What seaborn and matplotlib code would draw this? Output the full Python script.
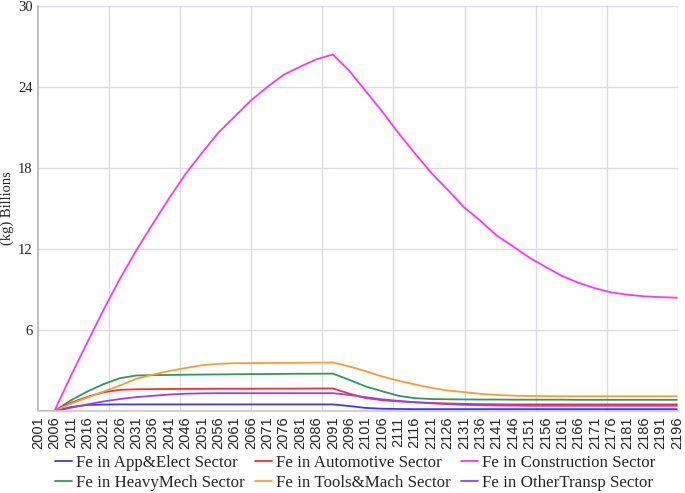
import matplotlib
matplotlib.use("Agg")
import matplotlib.pyplot as plt
import seaborn as sns
import pandas as pd
import numpy as np

years = list(range(2001, 2197, 5))

app_elect = [0, 0, 0.3, 0.46, 0.49, 0.5, 0.5, 0.5, 0.5, 0.5, 0.5, 0.5, 0.5, 0.5,
             0.5, 0.5, 0.5, 0.5, 0.5, 0.38, 0.24, 0.18, 0.16, 0.15, 0.15, 0.15,
             0.15, 0.15, 0.15, 0.15, 0.15, 0.15, 0.15, 0.15, 0.15, 0.15, 0.15,
             0.15, 0.15, 0.15]
automotive = [0, 0, 0.62, 1.05, 1.4, 1.58, 1.62, 1.63, 1.64, 1.65, 1.65, 1.66,
              1.66, 1.66, 1.67, 1.67, 1.67, 1.68, 1.68, 1.3, 0.97, 0.81, 0.72,
              0.66, 0.61, 0.57, 0.54, 0.52, 0.51, 0.5, 0.5, 0.5, 0.5, 0.5, 0.5,
              0.5, 0.5, 0.5, 0.5, 0.5]
construction = [0, 0, 2.6, 5.06, 7.5, 9.8, 11.9, 13.85, 15.75, 17.55, 19.1, 20.6,
                21.8, 23.0, 24.0, 24.9, 25.5, 26.05, 26.4, 25.2, 23.7, 22.2, 20.6,
                19.1, 17.65, 16.4, 15.1, 14.1, 13.0, 12.2, 11.36, 10.67, 10.0, 9.5,
                9.1, 8.79, 8.62, 8.5, 8.44, 8.4]
heavy_mech = [0, 0, 0.8, 1.45, 2.0, 2.44, 2.64, 2.67, 2.68, 2.7, 2.71, 2.72, 2.73,
              2.74, 2.75, 2.76, 2.77, 2.77, 2.78, 2.32, 1.83, 1.48, 1.14, 0.96,
              0.9, 0.88, 0.87, 0.86, 0.86, 0.85, 0.85, 0.85, 0.85, 0.84, 0.84,
              0.84, 0.84, 0.84, 0.84, 0.84]
tools_mach = [0, 0, 0.55, 1.0, 1.45, 1.9, 2.4, 2.7, 2.97, 3.19, 3.4, 3.5, 3.55,
              3.56, 3.57, 3.57, 3.58, 3.59, 3.6, 3.31, 2.96, 2.57, 2.25, 1.98,
              1.73, 1.53, 1.41, 1.28, 1.2, 1.15, 1.12, 1.11, 1.1, 1.1, 1.1, 1.1,
              1.1, 1.1, 1.1, 1.1]
other_transp = [0, 0, 0.25, 0.5, 0.72, 0.9, 1.04, 1.14, 1.23, 1.29, 1.32, 1.33,
                1.33, 1.33, 1.33, 1.33, 1.33, 1.33, 1.33, 1.2, 1.03, 0.88, 0.76,
                0.66, 0.58, 0.52, 0.47, 0.44, 0.42, 0.41, 0.4, 0.4, 0.4, 0.4, 0.4,
                0.4, 0.4, 0.4, 0.4, 0.4]

series = {
    "Fe in App&Elect Sector": app_elect,
    "Fe in HeavyMech Sector": heavy_mech,
    "Fe in Automotive Sector": automotive,
    "Fe in Tools&Mach Sector": tools_mach,
    "Fe in Construction Sector": construction,
    "Fe in OtherTransp Sector": other_transp,
}
colors = {
    "Fe in App&Elect Sector": "#3a3aff",
    "Fe in HeavyMech Sector": "#2e9a5c",
    "Fe in Automotive Sector": "#ff2d2d",
    "Fe in Tools&Mach Sector": "#ff9a30",
    "Fe in Construction Sector": "#ff33ff",
    "Fe in OtherTransp Sector": "#9a3cff",
}

df = pd.concat(
    [pd.DataFrame({"Year": years, "Value": v, "Series": k}) for k, v in series.items()],
    ignore_index=True,
)

sns.set_theme(style="white")
plt.rcParams["font.family"] = ["Liberation Serif", "DejaVu Serif"]

fig = plt.figure(figsize=(6.85, 4.93), dpi=100)
ax = fig.add_axes([0.0555, 0.166, 0.934, 0.822])

sns.lineplot(data=df, x="Year", y="Value", hue="Series", palette=colors,
             hue_order=list(series.keys()), linewidth=1.3, ax=ax, legend=True)

ax.set_xlim(2001, 2196.3)
ax.set_ylim(0, 30)
ax.set_xticks(years)
ax.set_xticklabels([str(y) for y in years], rotation=90,
                   family=["Liberation Sans", "DejaVu Sans"], fontsize=10.5)
ax.set_yticks([6, 12, 18, 24, 30])
ax.set_yticklabels(["6", "12", "18", "24", "30"], fontsize=10.5)
ax.set_xticks(np.linspace(2001, 2196.3, 10), minor=True)
ax.tick_params(axis="x", which="both", length=0, pad=4)
ax.tick_params(axis="y", which="both", length=0, pad=4)
ax.grid(False)
ax.grid(True, which="minor", axis="x", color="#dcdce4", linewidth=1)
ax.grid(True, which="major", axis="y", color="#dcdce4", linewidth=1)
ax.set_xlabel("")
ax.set_ylabel("(kg) Billions", fontsize=10.5, labelpad=3)

for side in ["top", "right"]:
    ax.spines[side].set_visible(False)
ax.spines["left"].set_color("#b8b8b8")
ax.spines["bottom"].set_color("#c8c8dc")

handles, labels = ax.get_legend_handles_labels()
ax.get_legend().remove()
fig.legend(handles, labels, loc="lower center", bbox_to_anchor=(0.518, -0.026),
           ncol=3, frameon=False, fontsize=12.2, handlelength=1.0,
           handletextpad=0.25, columnspacing=0.6, labelspacing=0.2)

fig.savefig("out.png", dpi=100)
